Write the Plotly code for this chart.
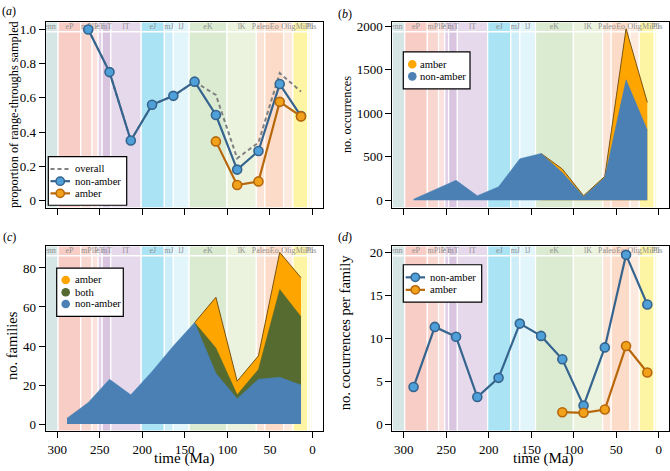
import plotly.graph_objects as go

# ---------------- data ----------------
time_bins = [288.5, 263.5, 238.5, 213.5, 188.5, 163.5, 138.5, 113.5, 88.5, 63.5, 38.5, 13.5]

# (a) proportion of range-throughs sampled
prop_overall = [1.0, 0.751, 0.351, 0.56, 0.612, 0.695, 0.617, 0.247, 0.339, 0.745, 0.637]
prop_nonamber = [1.0, 0.751, 0.351, 0.56, 0.612, 0.695, 0.5, 0.181, 0.29, 0.681, 0.494]
prop_amber = [0.346, 0.091, 0.112, 0.577, 0.492]

# (b) number of occurrences
occ_nonamber = [13, 120, 231, 53, 155, 477, 538, 320, 45, 265, 1384, 807]
occ_amber = [0, 40, 8, 11, 586, 318]

# (c) number of families
fam_nonamber = [3, 11, 23, 15, 27, 40, 52, 26, 13, 23, 24, 20]
fam_both = [0, 13, 2, 5, 45, 35]
fam_amber = [0, 26, 7, 7, 19, 20]

# (d) occurrences per family
opf_nonamber = [4.35, 11.35, 10.2, 3.19, 5.42, 11.73, 10.3, 7.58, 2.19, 8.96, 19.73, 13.96]
opf_amber = [1.42, 1.35, 1.73, 9.12, 6.04]

# geological time scale
period_names = ["Penn", "eP", "mP", "lP", "eT", "mT", "lT", "eJ", "mJ", "lJ", "eK", "lK",
                "Paleo", "Eo", "Olig", "Mi", "Pli", "Pls"]
period_start = [323.2, 298.9, 272.3, 259.1, 251.9, 247.2, 237.0, 201.3, 174.1, 163.5, 145.0,
                100.5, 66.0, 56.0, 33.9, 23.0, 5.33, 2.58]
period_end = [298.9, 272.3, 259.1, 251.9, 247.2, 237.0, 201.3, 174.1, 163.5, 145.0, 100.5,
              66.0, 56.0, 33.9, 23.0, 5.33, 2.58, 0.0]
period_colors = ["#d5e6e5", "#f7cdc6", "#f9d7d1", "#fbe2de", "#e2d2e8", "#d9c5e0", "#e6d9ec",
                 "#aae3f4", "#cdeef8", "#e1f5fb", "#dbebd2", "#ebf3de", "#fbe3d6", "#fcdcc8",
                 "#fdeade", "#fdf5a3", "#fef9d2", "#fffbea"]

x_ticks = [300, 250, 200, 150, 100, 50, 0]

# ---------------- styling ----------------
FONT = "Liberation Serif"
BLUE_LINE = "#35648e"
BLUE_MARK = "#4f9fd8"
AMB_LINE = "#b8680c"
AMB_MARK = "#f2a21a"
BLUE_FILL = "#4a80b4"
AMB_FILL = "#ffa500"
BOTH_FILL = "#556b2f"
OUTLINE = "#7a5410"
GREY = "#808080"
DASH = "4px,3px"

W, H = 670, 471
XR = [313.5, -12]

panels = {
    "a": dict(x=(45.7, 322.7), y=(19, 206.7), yr=[-0.043, 1.0446], xa="x", ya="y"),
    "b": dict(x=(392.3, 669), y=(19, 206.7), yr=[-87, 2049], xa="x2", ya="y2"),
    "c": dict(x=(45.7, 322.7), y=(245, 431.7), yr=[-3.56, 91.3], xa="x3", ya="y3"),
    "d": dict(x=(392.3, 669), y=(245, 431.7), yr=[-0.77, 20.77], xa="x4", ya="y4"),
}

fig = go.Figure()
shapes = []

STRIP = 0.947
for key, p in panels.items():
    y0, y1 = p["yr"]
    for s, e, c in zip(period_start, period_end, period_colors):
        xs = min(s, XR[0])
        shapes.append(dict(type="rect", xref=p["xa"], yref=p["ya"], x0=xs, x1=e,
                           y0=y0, y1=y1, fillcolor=c, line=dict(color="white", width=1.2),
                           layer="below"))
    ys = y0 + STRIP * (y1 - y0)
    shapes.append(dict(type="line", xref=p["xa"], yref=p["ya"], x0=XR[0], x1=XR[1],
                       y0=ys, y1=ys, line=dict(color="white", width=1.5), layer="below"))
    mids = [(s + e) / 2 for s, e in zip(period_start, period_end)]
    fig.add_trace(go.Scatter(x=mids, y=[y0 + 0.974 * (y1 - y0)] * len(mids), mode="text",
                             text=period_names, textfont=dict(family=FONT, size=8, color="#909090"),
                             xaxis=p["xa"], yaxis=p["ya"], showlegend=False, hoverinfo="skip",
                             cliponaxis=True))

# ---- (a) ----
fig.add_trace(go.Scatter(x=time_bins[1:], y=prop_overall, mode="lines", name="overall",
                         line=dict(color=GREY, width=2, dash=DASH),
                         xaxis="x", yaxis="y", showlegend=False))
fig.add_trace(go.Scatter(x=time_bins[1:], y=prop_nonamber, mode="lines+markers", name="non-amber",
                         line=dict(color=BLUE_LINE, width=2.2),
                         marker=dict(size=9, color=BLUE_MARK, line=dict(color=BLUE_LINE, width=1.6)),
                         xaxis="x", yaxis="y", showlegend=False))
fig.add_trace(go.Scatter(x=time_bins[7:], y=prop_amber, mode="lines+markers", name="amber",
                         line=dict(color=AMB_LINE, width=2.2),
                         marker=dict(size=9, color=AMB_MARK, line=dict(color=AMB_LINE, width=1.6)),
                         xaxis="x", yaxis="y", showlegend=False))

# ---- (b) ----
occ_total = [n + a for n, a in zip(occ_nonamber[6:], occ_amber)]
fig.add_trace(go.Scatter(x=time_bins[6:], y=occ_total, mode="lines", fill="tozeroy", name="amber",
                         fillcolor=AMB_FILL, line=dict(color=OUTLINE, width=1),
                         xaxis="x2", yaxis="y2", showlegend=False))
fig.add_trace(go.Scatter(x=time_bins, y=occ_nonamber, mode="lines", fill="tozeroy", name="non-amber",
                         fillcolor=BLUE_FILL, line=dict(color=BLUE_FILL, width=0.5),
                         xaxis="x2", yaxis="y2", showlegend=False))

# ---- (c) ----
fam_both_top = [n + b for n, b in zip(fam_nonamber[6:], fam_both)]
fam_total = [t + a for t, a in zip(fam_both_top, fam_amber)]
fig.add_trace(go.Scatter(x=time_bins[6:], y=fam_total, mode="lines", fill="tozeroy", name="amber",
                         fillcolor=AMB_FILL, line=dict(color=OUTLINE, width=1),
                         xaxis="x3", yaxis="y3", showlegend=False))
fig.add_trace(go.Scatter(x=time_bins[6:], y=fam_both_top, mode="lines", fill="tozeroy", name="both",
                         fillcolor=BOTH_FILL, line=dict(color=BOTH_FILL, width=0.5),
                         xaxis="x3", yaxis="y3", showlegend=False))
fig.add_trace(go.Scatter(x=time_bins, y=fam_nonamber, mode="lines", fill="tozeroy", name="non-amber",
                         fillcolor=BLUE_FILL, line=dict(color=BLUE_FILL, width=0.5),
                         xaxis="x3", yaxis="y3", showlegend=False))

# ---- (d) ----
fig.add_trace(go.Scatter(x=time_bins, y=opf_nonamber, mode="lines+markers", name="non-amber",
                         line=dict(color=BLUE_LINE, width=2.2),
                         marker=dict(size=9, color=BLUE_MARK, line=dict(color=BLUE_LINE, width=1.6)),
                         xaxis="x4", yaxis="y4", showlegend=False))
fig.add_trace(go.Scatter(x=time_bins[7:], y=opf_amber, mode="lines+markers", name="amber",
                         line=dict(color=AMB_LINE, width=2.2),
                         marker=dict(size=9, color=AMB_MARK, line=dict(color=AMB_LINE, width=1.6)),
                         xaxis="x4", yaxis="y4", showlegend=False))

# ---------------- layout ----------------
def dom_x(p):
    return [p["x"][0] / W, p["x"][1] / W]

def dom_y(p):
    return [1 - p["y"][1] / H, 1 - p["y"][0] / H]

axis_common = dict(showline=True, linecolor="black", linewidth=1, mirror=True, ticks="outside",
                   ticklen=6, tickcolor="black", showgrid=False, zeroline=False,
                   tickfont=dict(family=FONT, size=13, color="black"))

yticks = {
    "a": ([0, 0.2, 0.4, 0.6, 0.8, 1.0], ["0", "0.2", "0.4", "0.6", "0.8", "1.0"]),
    "b": ([0, 500, 1000, 1500, 2000], ["0", "500", "1000", "1500", "2000"]),
    "c": ([0, 20, 40, 60, 80], ["0", "20", "40", "60", "80"]),
    "d": ([0, 5, 10, 15, 20], ["0", "5", "10", "15", "20"]),
}

layout = dict(width=W, height=H, margin=dict(l=0, r=0, t=0, b=0), showlegend=False,
              paper_bgcolor="white", plot_bgcolor="white",
              font=dict(family=FONT, color="black"))
for i, (key, p) in enumerate(panels.items()):
    sfx = "" if i == 0 else str(i + 1)
    layout["xaxis" + sfx] = dict(axis_common, domain=dom_x(p), range=XR, anchor="y" + sfx,
                                 tickvals=x_ticks, showticklabels=key in ("c", "d"))
    layout["yaxis" + sfx] = dict(axis_common, domain=dom_y(p), range=p["yr"], anchor="x" + sfx,
                                 tickvals=yticks[key][0], ticktext=yticks[key][1])

annotations = []
def ann(text, x, y, size=13, angle=0, xanchor="center"):
    annotations.append(dict(text=text, x=x / W, y=1 - y / H, xref="paper", yref="paper",
                            showarrow=False, textangle=angle, xanchor=xanchor, yanchor="middle",
                            font=dict(family=FONT, size=size, color="black")))

# ---- legends drawn as boxes with symbols (pixel layout) ----
def px(x):
    return x / W

def py(y):
    return 1 - y / H

def leg_box(x0, y0, x1, y1):
    shapes.append(dict(type="rect", xref="paper", yref="paper", x0=px(x0), x1=px(x1),
                       y0=py(y1), y1=py(y0), fillcolor="white",
                       line=dict(color="black", width=1.2), layer="above"))

def leg_line(x0, x1, y, color, width, dash="solid"):
    shapes.append(dict(type="line", xref="paper", yref="paper", x0=px(x0), x1=px(x1),
                       y0=py(y), y1=py(y), line=dict(color=color, width=width, dash=dash),
                       layer="above"))

def leg_dot(cx, cy, r, fill, edge=None, ew=0):
    shapes.append(dict(type="circle", xref="paper", yref="paper", x0=px(cx - r), x1=px(cx + r),
                       y0=py(cy + r), y1=py(cy - r), fillcolor=fill,
                       line=dict(color=edge if edge else fill, width=ew), layer="above"))

LEG_FONT = 10.6
# (a)
leg_box(48.3, 155, 126.7, 204)
for yy, kind in [(167.3, "overall"), (179.7, "non-amber"), (192, "amber")]:
    if kind == "overall":
        leg_line(50.5, 70, yy, GREY, 2, DASH)
    elif kind == "non-amber":
        leg_line(50.5, 70, yy, BLUE_LINE, 2.2)
        leg_dot(60.2, yy, 4.2, BLUE_MARK, BLUE_LINE, 1.5)
    else:
        leg_line(50.5, 70, yy, AMB_LINE, 2.2)
        leg_dot(60.2, yy, 4.2, AMB_MARK, AMB_LINE, 1.5)
    ann(kind, 73, yy, size=LEG_FONT, xanchor="left")
# (b)
leg_box(403.3, 49.3, 470, 86.7)
for yy, kind, col in [(61.7, "amber", AMB_FILL), (74, "non-amber", BLUE_FILL)]:
    leg_dot(412.3, yy, 4.3, col)
    ann(kind, 418.3, yy, size=LEG_FONT, xanchor="left")
# (c)
leg_box(56.7, 267.3, 123.3, 316)
for yy, kind, col in [(279.3, "amber", AMB_FILL), (291.7, "both", BOTH_FILL), (303.5, "non-amber", BLUE_FILL)]:
    leg_dot(65.7, yy, 4.3, col)
    ann(kind, 72.5, yy, size=LEG_FONT, xanchor="left")
# (d)
leg_box(403.3, 264, 481.7, 301.7)
for yy, kind in [(276.7, "non-amber"), (289.3, "amber")]:
    lc, mc = (BLUE_LINE, BLUE_MARK) if kind == "non-amber" else (AMB_LINE, AMB_MARK)
    leg_line(405.7, 425, yy, lc, 2.2)
    leg_dot(415.3, yy, 4.2, mc, lc, 1.5)
    ann(kind, 428.3, yy, size=LEG_FONT, xanchor="left")

ann("(<i>a</i>)", 9, 8, size=12)
ann("(<i>b</i>)", 345, 11, size=12)
ann("(<i>c</i>)", 9, 236, size=12)
ann("(<i>d</i>)", 345, 236, size=12)
ann("proportion of range-throughs sampled", 14, 113, size=12.3, angle=-90)
ann("no. occurrences", 347, 113, size=12.3, angle=-90)
ann("no. families", 12, 346, size=14.5, angle=-90)
ann("no. cocurrences per family", 345, 333, size=14.5, angle=-90)
ann("time (Ma)", 184, 459, size=15)
ann("time (Ma)", 543, 459, size=15)

layout["annotations"] = annotations
layout["shapes"] = shapes

fig.update_layout(**layout)
fig.write_html("out.html", config={"displayModeBar": False},
               post_script="document.body.style.margin='0';document.body.style.overflow='hidden';")
